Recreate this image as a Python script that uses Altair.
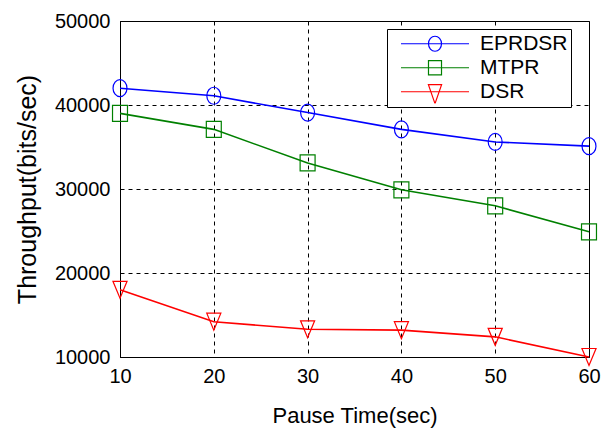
import altair as alt
import pandas as pd

# Throughput vs pause time for three routing protocols
pause_time = [10, 20, 30, 40, 50, 60]
eprdsr = [42000, 41100, 39100, 37100, 35600, 35100]
mtpr = [39000, 37100, 33100, 29900, 28000, 24900]
dsr = [18000, 14200, 13300, 13200, 12400, 10000]

series_names = ["EPRDSR", "MTPR", "DSR"]
series_colors = ["#0000ff", "#008000", "#ff0000"]
y_ticks = [10000, 20000, 30000, 40000, 50000]

rows = []
for name, values in zip(series_names, [eprdsr, mtpr, dsr]):
    for t, v in zip(pause_time, values):
        rows.append({"pause": t, "throughput": v, "series": name})
df = pd.DataFrame(rows)

FONT = "Liberation Sans, Arial, sans-serif"

# hollow markers drawn slightly taller than wide
marker_paths = [
    "M0.82,0A0.82,1,0,1,1,-0.82,0A0.82,1,0,1,1,0.82,0Z",
    "M-0.88,-0.94H0.88V0.94H-0.88Z",
    "M-0.83,-1H0.83L0,1Z",
]
# legend keys: a line segment with the marker on it (symbol box is wider
# than the segment so the key sits inset from the legend frame)
key_paths = [
    "M-0.773,0H0.773M0.148,0A0.148,0.17,0,1,1,-0.148,0A0.148,0.17,0,1,1,0.148,0",
    "M-0.773,0H0.773M-0.148,-0.16H0.148V0.16H-0.148Z",
    "M-0.773,0H0.773M-0.15,-0.16H0.15L0,0.27Z",
]

color_scale = alt.Scale(domain=series_names, range=series_colors)

x_enc = alt.X(
    "pause:Q",
    scale=alt.Scale(domain=[10, 60], nice=False),
    axis=alt.Axis(
        values=pause_time,
        title="Pause Time(sec)",
        titleX=234.5,
        titleY=58,
        titleAlign="center",
        titleBaseline="middle",
        titleFontSize=22,
        labelPadding=9,
        labelFlush=False,
    ),
)
y_enc = alt.Y(
    "throughput:Q",
    scale=alt.Scale(domain=[10000, 50000], nice=False),
    axis=alt.Axis(
        values=y_ticks,
        format="d",
        title="Throughput(bits/sec)",
        titleX=-93,
        titleY=168,
        titleAngle=270,
        titleAlign="center",
        titleBaseline="middle",
        titleFontSize=25,
        labelPadding=10,
        labelFlush=False,
    ),
)

base = alt.Chart(df).encode(x=x_enc, y=y_enc)

lines = base.mark_line(strokeWidth=1.6).encode(
    color=alt.Color("series:N", scale=color_scale, legend=None),
    detail="series:N",
)

points = base.mark_point(filled=False, strokeWidth=1.2, size=289, opacity=1).encode(
    color=alt.Color("series:N", scale=color_scale, legend=None),
    shape=alt.Shape(
        "series:N",
        scale=alt.Scale(domain=series_names, range=marker_paths),
        legend=None,
    ),
)

legend_style = dict(
    title=None,
    orient="none",
    legendX=267,
    legendY=8,
    strokeColor="black",
    fillColor="white",
    padding=3,
    cornerRadius=0,
    symbolSize=7744,
    symbolStrokeWidth=1.2,
    labelFont=FONT,
    labelFontSize=21,
    labelColor="black",
    labelOffset=0,
    labelExpr="datum.label + '  '",
    rowPadding=0,
    clipHeight=23.5,
)

key = (
    alt.Chart(df)
    .transform_filter("false")
    .mark_point(filled=False, strokeWidth=1.2, opacity=1)
    .encode(
        color=alt.Color("series:N", scale=color_scale, legend=alt.Legend(**legend_style)),
        shape=alt.Shape(
            "series:N",
            scale=alt.Scale(domain=series_names, range=key_paths),
            legend=alt.Legend(**legend_style),
        ),
    )
)

chart = (
    alt.layer(lines, points, key)
    .resolve_scale(color="independent", shape="independent")
    .properties(
        width=469,
        height=336,
        autosize=alt.AutoSizeParams(type="none"),
        padding={"left": 120, "top": 21, "right": 14, "bottom": 71},
        background="white",
    )
    .configure_view(stroke="black", strokeWidth=1)
    .configure_axis(
        grid=True,
        gridColor="black",
        gridDash=[4, 4],
        gridOpacity=1,
        gridWidth=1,
        domainColor="black",
        domainWidth=1,
        ticks=False,
        labelFont=FONT,
        labelFontSize=20,
        labelColor="black",
        titleFont=FONT,
        titleFontWeight="normal",
        titleColor="black",
    )
)

chart.save("out.html", embed_options={"renderer": "svg", "actions": False})
